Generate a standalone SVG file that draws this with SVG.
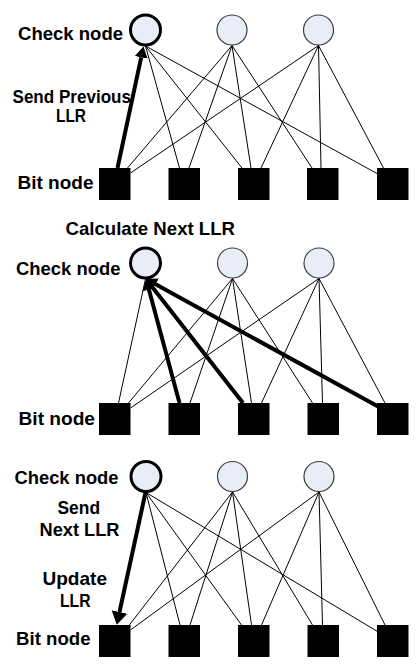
<svg xmlns="http://www.w3.org/2000/svg" width="420" height="665" viewBox="0 0 420 665">
<style>
text { font-family: "Liberation Sans", Arial, sans-serif; font-weight: bold; font-size: 18.5px; fill: #000; }
.cn { fill: #E8EDF7; stroke: #3a3a3a; stroke-width: 1.2; }
.cn.act { stroke: #000; stroke-width: 3; }
.bn { fill: #000; }
.e { stroke: #000; stroke-width: 1; fill: none; }
.t { stroke: #000; stroke-width: 4; fill: none; marker-end: url(#ah); }
.t.big { marker-end: url(#ah2); }
</style>
<defs>
<marker id="ah" markerUnits="userSpaceOnUse" markerWidth="12" markerHeight="14" viewBox="0 -7 12 14" refX="0" refY="0" orient="auto">
<path d="M0,-6.5 L11,0 L0,6.5 z" fill="#000"/>
</marker>
<marker id="ah2" markerUnits="userSpaceOnUse" markerWidth="14" markerHeight="18" viewBox="0 -9 14 18" refX="0" refY="0" orient="auto">
<path d="M0,-8 L13,0 L0,8 z" fill="#000"/>
</marker>
</defs>

<!-- Panel 1 -->
<g id="p1-labels">
<text x="18" y="40" textLength="105" lengthAdjust="spacingAndGlyphs">Check node</text>
<text x="12.5" y="102.5" textLength="118.5" lengthAdjust="spacingAndGlyphs">Send Previous</text>
<text x="56" y="122" textLength="30" lengthAdjust="spacingAndGlyphs">LLR</text>
<text x="17.5" y="188.5" textLength="76" lengthAdjust="spacingAndGlyphs">Bit node</text>
</g>
<g id="p1-c1"><circle class="cn act" cx="145.5" cy="30" r="15"/></g>
<g id="p1-c2"><circle class="cn" cx="232" cy="30" r="15"/></g>
<g id="p1-c3"><circle class="cn" cx="318.5" cy="30" r="15"/></g>
<g id="p1-b1"><rect class="bn" x="99" y="168" width="31.5" height="32"/></g>
<g id="p1-b2"><rect class="bn" x="168.5" y="168" width="31.5" height="32"/></g>
<g id="p1-b3"><rect class="bn" x="238" y="168" width="31.5" height="32"/></g>
<g id="p1-b4"><rect class="bn" x="307" y="168" width="31.5" height="32"/></g>
<g id="p1-b5"><rect class="bn" x="377" y="168" width="31.5" height="32"/></g>
<g id="p1-edges">
<line class="e" x1="145.5" y1="46" x2="179.5" y2="168"/>
<line class="e" x1="145.5" y1="46" x2="242" y2="168"/>
<line class="e" x1="145.5" y1="46" x2="377" y2="173.5"/>
<line class="e" x1="232" y1="45.5" x2="127.5" y2="168"/>
<line class="e" x1="232" y1="45.5" x2="189" y2="168"/>
<line class="e" x1="232" y1="45.5" x2="251" y2="168"/>
<line class="e" x1="232" y1="45.5" x2="312" y2="168"/>
<line class="e" x1="318.5" y1="45.5" x2="130.5" y2="173"/>
<line class="e" x1="318.5" y1="45.5" x2="261" y2="168"/>
<line class="e" x1="318.5" y1="45.5" x2="321" y2="168"/>
<line class="e" x1="318.5" y1="45.5" x2="383.5" y2="168"/>
<line class="t" x1="117.5" y1="168" x2="141.2" y2="57.3"/>
</g>

<!-- Panel 2 -->
<g id="p2-labels">
<text x="65.5" y="235" textLength="169.5" lengthAdjust="spacingAndGlyphs">Calculate Next LLR</text>
<text x="16" y="275" textLength="104.5" lengthAdjust="spacingAndGlyphs">Check node</text>
<text x="18.5" y="425" textLength="76.5" lengthAdjust="spacingAndGlyphs">Bit node</text>
</g>
<g id="p2-c1"><circle class="cn act" cx="145.5" cy="263" r="15"/></g>
<g id="p2-c2"><circle class="cn" cx="232.5" cy="263" r="15"/></g>
<g id="p2-c3"><circle class="cn" cx="319" cy="263" r="15"/></g>
<g id="p2-b1"><rect class="bn" x="99" y="403" width="31.5" height="32"/></g>
<g id="p2-b2"><rect class="bn" x="168.5" y="403" width="31.5" height="32"/></g>
<g id="p2-b3"><rect class="bn" x="238" y="403" width="31.5" height="32"/></g>
<g id="p2-b4"><rect class="bn" x="307.5" y="403" width="31.5" height="32"/></g>
<g id="p2-b5"><rect class="bn" x="377" y="403" width="31.5" height="32"/></g>
<g id="p2-edges">
<line class="e" x1="145.5" y1="279" x2="118.5" y2="403"/>
<line class="e" x1="232.5" y1="278.5" x2="128.5" y2="403"/>
<line class="e" x1="232.5" y1="278.5" x2="190" y2="403"/>
<line class="e" x1="232.5" y1="278.5" x2="251.5" y2="403"/>
<line class="e" x1="232.5" y1="278.5" x2="312.5" y2="403"/>
<line class="e" x1="319" y1="278.5" x2="130.5" y2="408"/>
<line class="e" x1="319" y1="278.5" x2="261.5" y2="403"/>
<line class="e" x1="319" y1="278.5" x2="322.5" y2="403"/>
<line class="e" x1="319" y1="278.5" x2="385" y2="403"/>
<line class="t" x1="179.5" y1="403" x2="148.9" y2="289.6"/>
<line class="t" x1="243" y1="403" x2="152.8" y2="287.7"/>
<line class="t" x1="379" y1="407" x2="155.6" y2="284.3"/>
</g>

<!-- Panel 3 -->
<g id="p3-labels">
<text x="14.5" y="483.5" textLength="104" lengthAdjust="spacingAndGlyphs">Check node</text>
<text x="57.5" y="513.5" textLength="42.5" lengthAdjust="spacingAndGlyphs">Send</text>
<text x="39.5" y="536" textLength="80" lengthAdjust="spacingAndGlyphs">Next LLR</text>
<text x="42.5" y="585" textLength="64.5" lengthAdjust="spacingAndGlyphs">Update</text>
<text x="60" y="606.5" textLength="30.5" lengthAdjust="spacingAndGlyphs">LLR</text>
<text x="16" y="645" textLength="74.5" lengthAdjust="spacingAndGlyphs">Bit node</text>
</g>
<g id="p3-c1"><circle class="cn act" cx="146" cy="476.5" r="15"/></g>
<g id="p3-c2"><circle class="cn" cx="232.5" cy="476.5" r="15"/></g>
<g id="p3-c3"><circle class="cn" cx="319" cy="476.5" r="15"/></g>
<g id="p3-b1"><rect class="bn" x="99" y="625" width="31.5" height="32"/></g>
<g id="p3-b2"><rect class="bn" x="168.5" y="625" width="31.5" height="32"/></g>
<g id="p3-b3"><rect class="bn" x="238" y="625" width="31.5" height="32"/></g>
<g id="p3-b4"><rect class="bn" x="307.5" y="625" width="31.5" height="32"/></g>
<g id="p3-b5"><rect class="bn" x="377" y="625" width="31.5" height="32"/></g>
<g id="p3-edges">
<line class="e" x1="146" y1="492.5" x2="180" y2="625"/>
<line class="e" x1="146" y1="492.5" x2="241.5" y2="625"/>
<line class="e" x1="146" y1="492.5" x2="377.5" y2="631.5"/>
<line class="e" x1="232.5" y1="492" x2="129.3" y2="625"/>
<line class="e" x1="232.5" y1="492" x2="190" y2="625"/>
<line class="e" x1="232.5" y1="492" x2="251.5" y2="625"/>
<line class="e" x1="232.5" y1="492" x2="312.5" y2="625"/>
<line class="e" x1="319" y1="492" x2="130.5" y2="630"/>
<line class="e" x1="319" y1="492" x2="261.5" y2="625"/>
<line class="e" x1="319" y1="492" x2="322.5" y2="625"/>
<line class="e" x1="319" y1="492" x2="385" y2="625"/>
<line class="t big" x1="145.5" y1="492.5" x2="119.5" y2="612"/>
</g>
</svg>
